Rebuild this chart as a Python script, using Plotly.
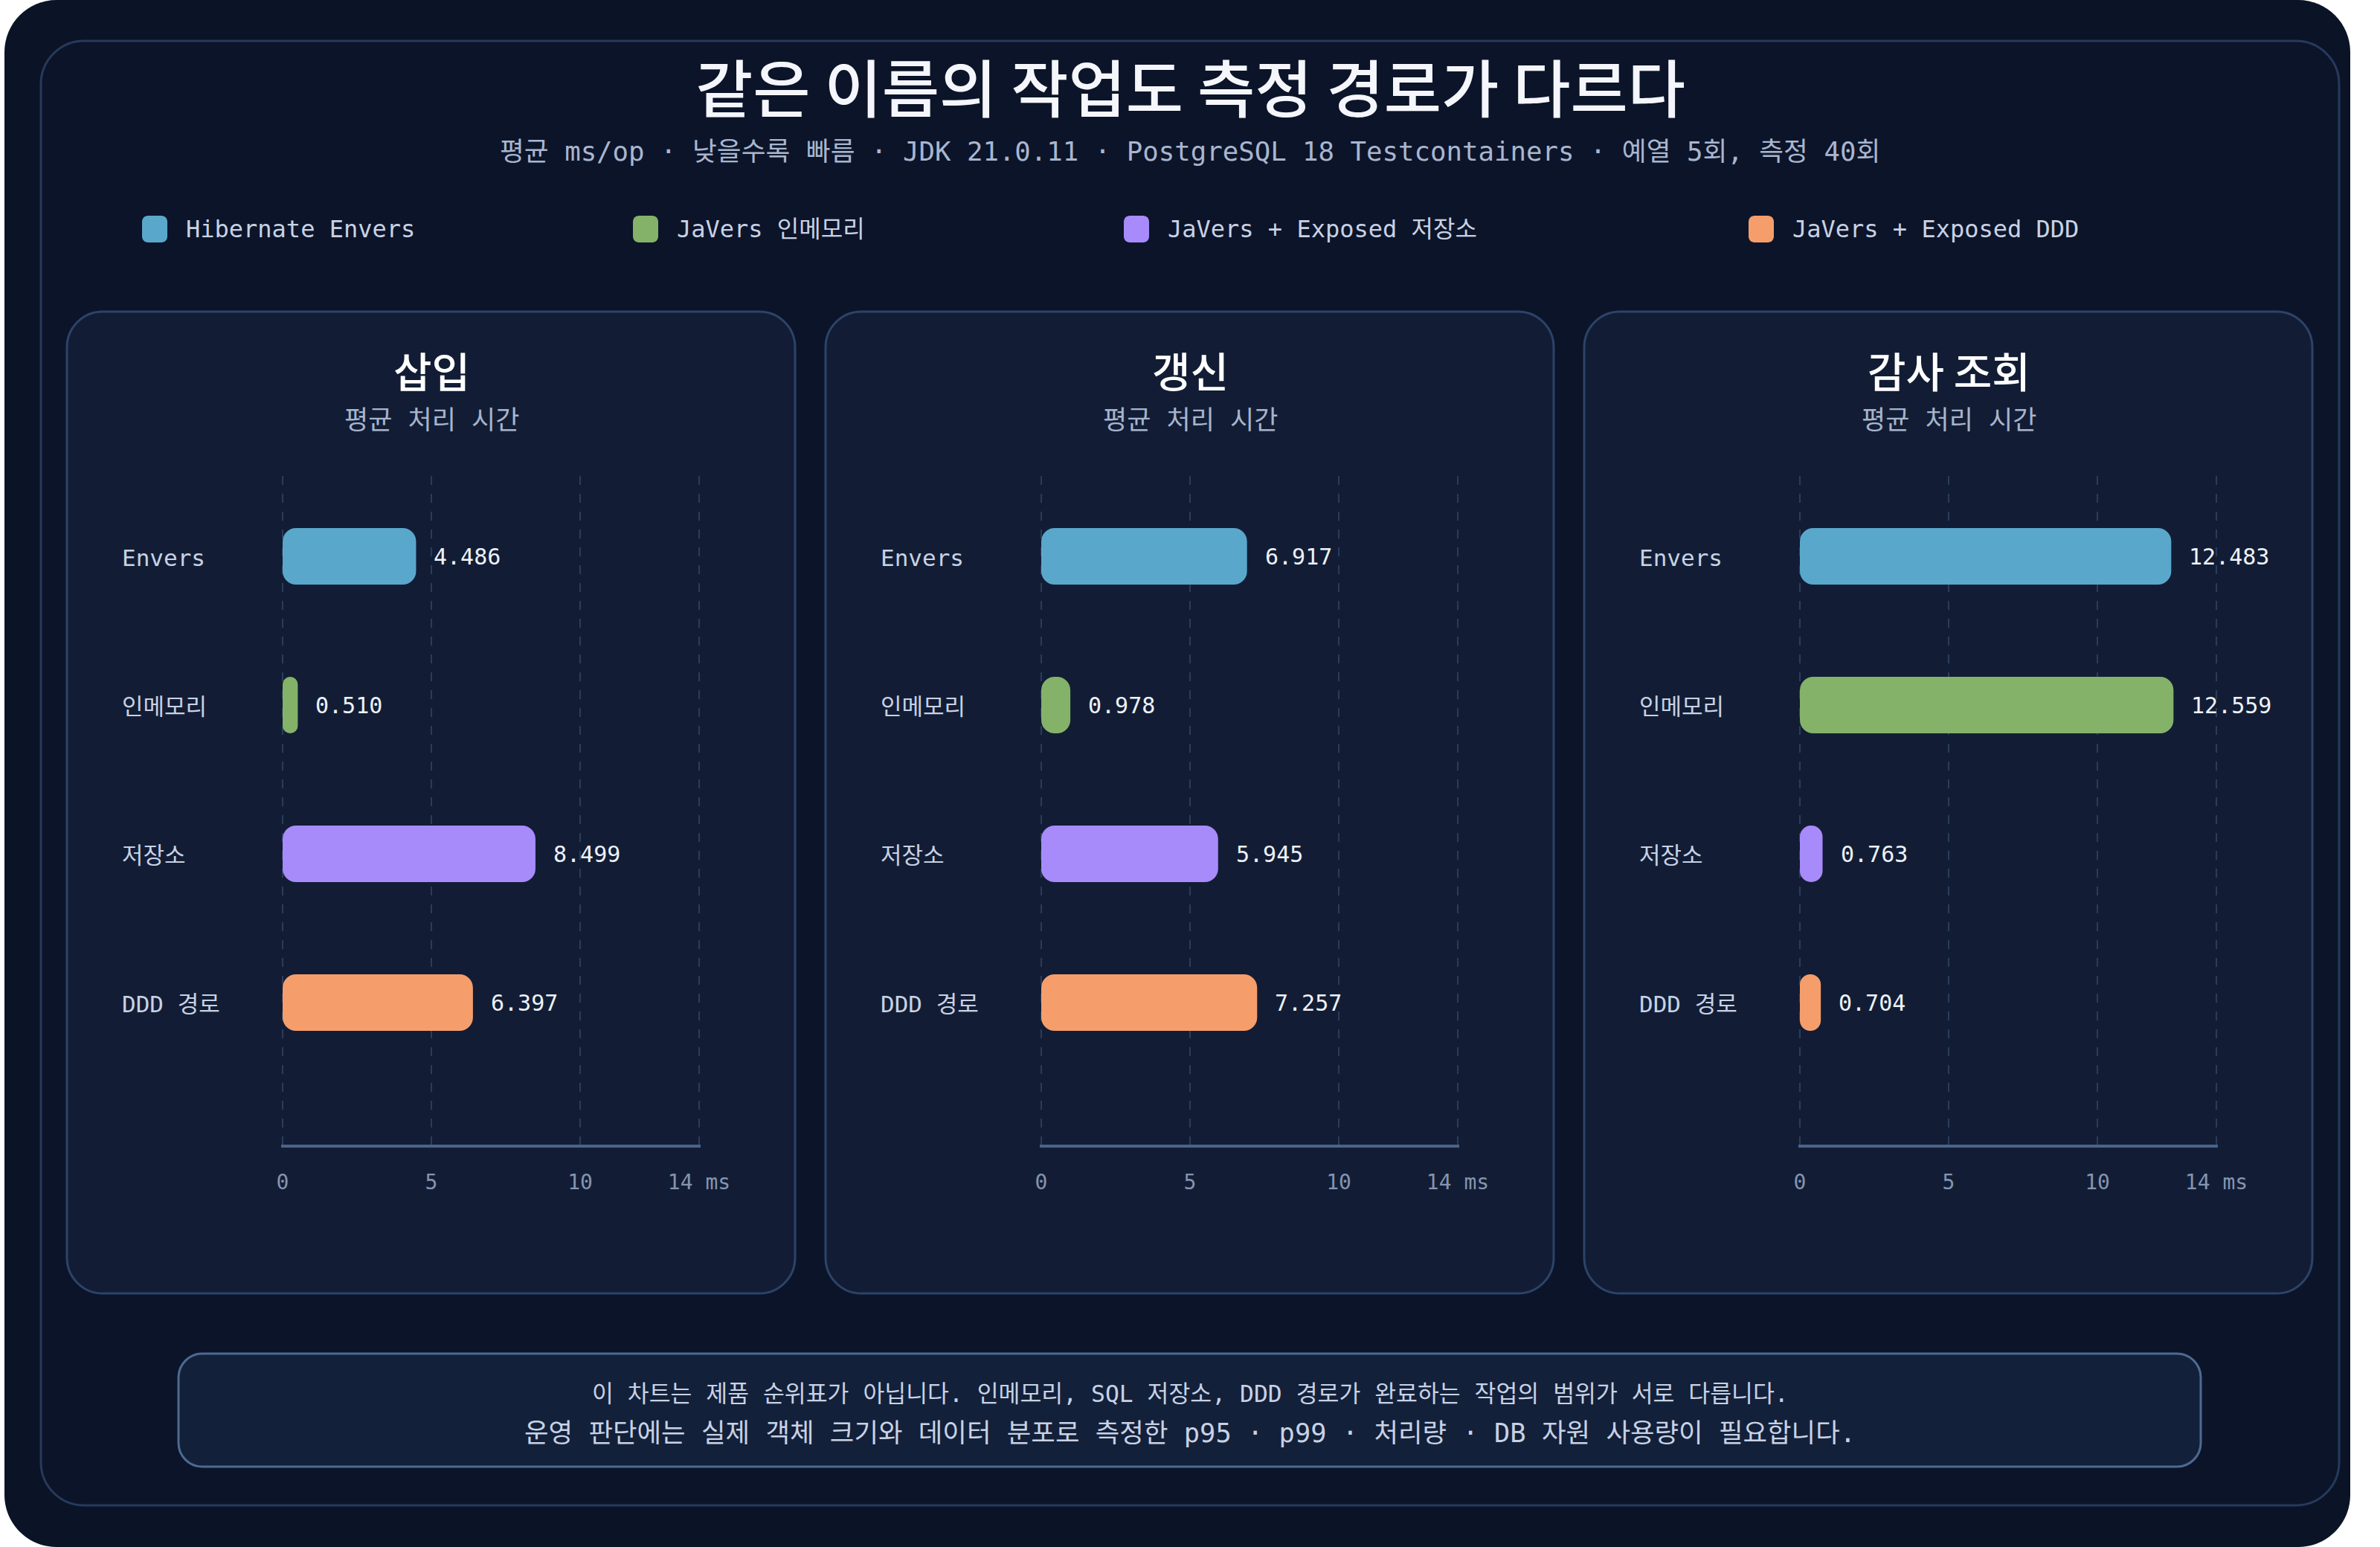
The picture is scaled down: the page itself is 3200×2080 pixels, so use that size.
import plotly.graph_objects as go

W, H = 3200, 2080

# --- data ---
series_names = ["Hibernate Envers", "JaVers 인메모리", "JaVers + Exposed 저장소", "JaVers + Exposed DDD"]
categories = ["Envers", "인메모리", "저장소", "DDD 경로"]
panel_titles = ["삽입", "갱신", "감사 조회"]
panel_subtitle = "평균 처리 시간"
insert_ms = [4.486, 0.510, 8.499, 6.397]
update_ms = [6.917, 0.978, 5.945, 7.257]
audit_ms = [12.483, 12.559, 0.763, 0.704]
tick_vals = [0, 5, 10, 14]
tick_text = ["0", "5", "10", "14 ms"]

title = "같은 이름의 작업도 측정 경로가 다르다"
subtitle = "평균 ms/op · 낮을수록 빠름 · JDK 21.0.11 · PostgreSQL 18 Testcontainers · 예열 5회, 측정 40회"
note_1 = "이 차트는 제품 순위표가 아닙니다. 인메모리, SQL 저장소, DDD 경로가 완료하는 작업의 범위가 서로 다릅니다."
note_2 = "운영 판단에는 실제 객체 크기와 데이터 분포로 측정한 p95 · p99 · 처리량 · DB 자원 사용량이 필요합니다."

colors = ["#5aa7cc", "#84b269", "#a78bfa", "#f59e6c"]

MONO = "DejaVu Sans Mono, Noto Sans CJK KR, monospace"
SANS = "Noto Sans CJK KR, Noto Sans, sans-serif"

# the plot ends up a little narrower than the window, so layout is done in
# screen pixels and mapped back onto the paper span that actually shows
X_OFF, X_SPAN = 6, 3154


def X(x):
    return (x - X_OFF) / X_SPAN


def Y(y):
    return 1 - y / H


def rrect(x0, y0, x1, y1, r):
    # rounded rectangle in pixel coords -> paper path
    k = 0.5523 * r
    pts = [
        f"M{X(x0 + r)},{Y(y0)}",
        f"L{X(x1 - r)},{Y(y0)}",
        f"C{X(x1 - r + k)},{Y(y0)} {X(x1)},{Y(y0 + r - k)} {X(x1)},{Y(y0 + r)}",
        f"L{X(x1)},{Y(y1 - r)}",
        f"C{X(x1)},{Y(y1 - r + k)} {X(x1 - r + k)},{Y(y1)} {X(x1 - r)},{Y(y1)}",
        f"L{X(x0 + r)},{Y(y1)}",
        f"C{X(x0 + r - k)},{Y(y1)} {X(x0)},{Y(y1 - r + k)} {X(x0)},{Y(y1 - r)}",
        f"L{X(x0)},{Y(y0 + r)}",
        f"C{X(x0)},{Y(y0 + r - k)} {X(x0 + r - k)},{Y(y0)} {X(x0 + r)},{Y(y0)}",
        "Z",
    ]
    return " ".join(pts)


def label(text, x, y, size, color, family=MONO, xanchor="center", **kw):
    return dict(text=text, x=x, y=y, xref=kw.pop("xref", "paper"), yref=kw.pop("yref", "paper"),
                xanchor=xanchor, yanchor="middle", showarrow=False,
                font=dict(family=family, size=size, color=color, weight=kw.pop("weight", 400)), **kw)


fig = go.Figure()
shapes = []
annotations = []

# background card + frame
shapes.append(dict(type="path", xref="paper", yref="paper", layer="below",
                   path=rrect(X_OFF, 0, X_OFF + X_SPAN, H, 70), fillcolor="#0b1327", line=dict(width=0)))
shapes.append(dict(type="path", xref="paper", yref="paper", layer="below",
                   path=rrect(55, 55, 3145, 2024, 58), fillcolor="#0c1429",
                   line=dict(color="#263a5c", width=3)))

annotations.append(label(title, X(1600), Y(114), 84, "#f4f6fb", family=SANS, weight=500))
annotations.append(label(subtitle, X(1600), Y(204), 35.7, "#a9b6cf"))

# legend
legend_marker_x = [208, 868, 1528, 2368]
for name, c, mx in zip(series_names, colors, legend_marker_x):
    shapes.append(dict(type="path", xref="paper", yref="paper", layer="above",
                       path=rrect(mx - 17, 290, mx + 17, 326, 8), fillcolor=c, line=dict(width=0)))
    annotations.append(label(name, X(mx + 40), Y(308), 32, "#c8d2e4", xanchor="left"))

# panels
panel_vals = [insert_ms, update_ms, audit_ms]
panel_x0 = [90, 1110, 2130]
for i, (ptitle, vals, px0) in enumerate(zip(panel_titles, panel_vals, panel_x0)):
    ax = "" if i == 0 else str(i + 1)
    shapes.append(dict(type="path", xref="paper", yref="paper", layer="below",
                       path=rrect(px0, 419, px0 + 979, 1739, 48), fillcolor="#121d35",
                       line=dict(color="#2d4369", width=3)))
    cx = px0 + 490
    annotations.append(label(ptitle, X(cx), Y(496), 56, "#ffffff", family=SANS, weight=500))
    annotations.append(label(panel_subtitle, X(cx), Y(565), 35, "#a7b4cc"))

    # explicit base -> plotly rounds both ends of the bar
    fig.add_trace(go.Bar(
        x=vals, y=categories, base=[0] * len(vals), orientation="h", width=0.38,
        marker=dict(color=colors, cornerradius=18, line=dict(width=0)),
        xaxis="x" + ax, yaxis="y" + ax, showlegend=False,
        hovertemplate="%{y}: %{x:.3f} ms<extra></extra>",
    ))

    for cat, v in zip(categories, vals):
        annotations.append(label(f"{v:.3f}", v, cat, 30, "#eef2f8", xanchor="left",
                                 xref="x" + ax, yref="y" + ax, xshift=22))
        annotations.append(label(cat, X(px0 + 72), cat, 31, "#c8d2e4", xanchor="left",
                                 yref="y" + ax, yshift=-2))

    # 2px of slack each side so the grid lines at 0 and 14 are not clipped
    plot_x0 = px0 + 290
    fig.update_layout(**{
        "xaxis" + ax: dict(domain=[X(plot_x0 - 2), X(plot_x0 + 562)], range=[-0.05, 14.05],
                           tickvals=tick_vals, ticktext=tick_text, anchor="y" + ax,
                           showgrid=True, gridcolor="#2a3c5c", gridwidth=2, griddash="12px,12px",
                           zeroline=False, showline=True, linecolor="#4a6389", linewidth=4,
                           ticks="", ticklabelstandoff=22, fixedrange=True,
                           tickfont=dict(family=MONO, size=28, color="#8594b0")),
        "yaxis" + ax: dict(domain=[Y(1539), Y(640)], type="category", categoryorder="array",
                           categoryarray=categories, range=[3.955, -0.54], anchor="x" + ax,
                           showticklabels=False, showgrid=False, zeroline=False,
                           showline=False, fixedrange=True),
    })

# footer note
shapes.append(dict(type="path", xref="paper", yref="paper", layer="below",
                   path=rrect(240, 1820, 2959, 1972, 32), fillcolor="#13203a",
                   line=dict(color="#4d6a93", width=3)))
annotations.append(label(note_1, X(1600), Y(1874), 31.4, "#c8d2e4"))
annotations.append(label(note_2, X(1600), Y(1926), 35.4, "#c8d2e4"))

fig.update_layout(
    width=W, height=H, margin=dict(l=0, r=0, t=0, b=0),
    paper_bgcolor="#ffffff", plot_bgcolor="rgba(0,0,0,0)",
    shapes=shapes, annotations=annotations, showlegend=False,
)

fig.write_html("out.html", config={"displayModeBar": False},
               post_script="document.body.style.margin='0px';")
